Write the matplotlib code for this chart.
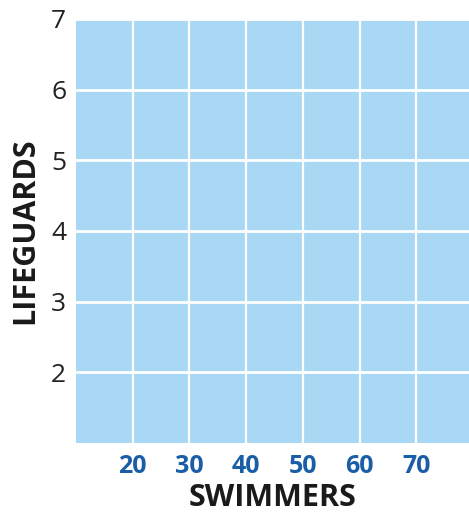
import matplotlib
matplotlib.use('Agg')
import matplotlib.pyplot as plt

# axis data
swimmer_ticks = [20, 30, 40, 50, 60, 70]
swimmer_range = [10, 79.3]
lifeguard_ticks = [2, 3, 4, 5, 6, 7]
lifeguard_grid = [1, 2, 3, 4, 5, 6, 7]
lifeguard_range = [1, 7]

plt.rcParams['font.family'] = ['Open Sans', 'DejaVu Sans']

fig = plt.figure(figsize=(4.69, 5.15), dpi=100)
ax = fig.add_axes([76 / 469, 72 / 515, 1 - 76 / 469, (443 - 19) / 515])
ax.set_facecolor('#a8d8f3')

ax.set_xlim(swimmer_range)
ax.set_ylim(lifeguard_range)

# white grid lines
for x in swimmer_ticks:
    ax.axvline(x, color='white', lw=1.6)
for y in lifeguard_grid[1:]:
    ax.axhline(y, color='white', lw=2.0)

ax.set_xticks(swimmer_ticks)
ax.set_xticklabels([str(v) for v in swimmer_ticks], fontsize=18, fontweight='bold', color='#1a5ea8')
ax.set_yticks(lifeguard_ticks)
ax.set_yticklabels([str(v) for v in lifeguard_ticks], fontsize=19, color='#222222')
ax.tick_params(axis='x', length=0, pad=8)
ax.tick_params(axis='y', length=0, pad=7)

for side in ax.spines.values():
    side.set_visible(False)

ax.set_xlabel('SWIMMERS', fontsize=22, fontweight='bold', color='#1a1a1a', labelpad=3)
ax.set_ylabel('LIFEGUARDS', fontsize=22, fontweight='bold', color='#1a1a1a', labelpad=8)

fig.savefig('out.png', dpi=100)
